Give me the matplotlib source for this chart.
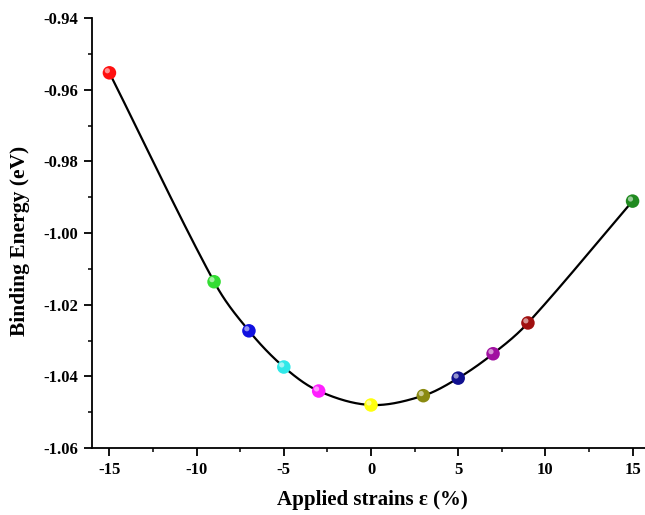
import numpy as np
import matplotlib
matplotlib.use("Agg")
import matplotlib.pyplot as plt
from matplotlib.transforms import offset_copy

strain = [-15, -9, -7, -5, -3, 0, 3, 5, 7, 9, 15]
energy = [-0.9553, -1.0136, -1.0273, -1.0374, -1.0441, -1.0480, -1.0454, -1.0405, -1.0337, -1.0251, -0.9911]
colors = ['#ff1010', '#33dd33', '#1010e0', '#30e8e8', '#ff20ff', '#ffff10',
          '#8a8a10', '#101090', '#a010a0', '#a01010', '#208a20']
xticks = [-15, -10, -5, 0, 5, 10, 15]
yticks = [-1.06, -1.04, -1.02, -1.00, -0.98, -0.96, -0.94]


def hermite_smooth(x, y, xs):
    """Cubic Hermite curve with finite-difference (Catmull-Rom style) tangents."""
    x = np.asarray(x, float)
    y = np.asarray(y, float)
    n = len(x)
    m = np.empty(n)
    m[0] = (y[1] - y[0]) / (x[1] - x[0])
    m[-1] = (y[-1] - y[-2]) / (x[-1] - x[-2])
    m[1:-1] = (y[2:] - y[:-2]) / (x[2:] - x[:-2])
    idx = np.clip(np.searchsorted(x, xs) - 1, 0, n - 2)
    h = x[idx + 1] - x[idx]
    t = (xs - x[idx]) / h
    h00 = 2 * t**3 - 3 * t**2 + 1
    h10 = t**3 - 2 * t**2 + t
    h01 = -2 * t**3 + 3 * t**2
    h11 = t**3 - t**2
    return h00 * y[idx] + h10 * h * m[idx] + h01 * y[idx + 1] + h11 * h * m[idx + 1]


plt.rcParams['font.family'] = ['Liberation Serif', 'DejaVu Serif']
plt.rcParams['font.weight'] = 'bold'

fig = plt.figure(figsize=(6.45, 5.15), dpi=100)
ax = fig.add_axes([92/645, 67/515, 558/645, 430/515])

xs = np.linspace(min(strain), max(strain), 600)
ax.plot(xs, hermite_smooth(strain, energy, xs), color='black', lw=1.6, zorder=2)

ax.scatter(strain, energy, s=95, c=colors, edgecolors='none', zorder=3)
hl = offset_copy(ax.transData, fig=fig, x=-1.5, y=1.5, units='points')
ax.scatter(strain, energy, s=14, c='white', alpha=0.55, edgecolors='none',
           transform=hl, zorder=4)

ax.set_xlim(-16, 16)
ax.set_ylim(-1.06, -0.94)
ax.set_xticks(xticks)
ax.set_xticklabels([str(v) for v in xticks])
ax.set_yticks(yticks)
ax.set_yticklabels([f"{v:.2f}" for v in yticks])
ax.set_xticks(np.arange(-12.5, 16, 5), minor=True)
ax.set_yticks(np.arange(-1.05, -0.94, 0.02), minor=True)
ax.spines['top'].set_visible(False)
ax.spines['right'].set_visible(False)
for s in ['left', 'bottom']:
    ax.spines[s].set_linewidth(1.3)
ax.tick_params(which='major', direction='out', length=6, width=1.3, labelsize=12, pad=4)
ax.tick_params(which='minor', direction='out', length=3, width=1.1)
for lab in ax.get_xticklabels() + ax.get_yticklabels():
    lab.set_fontweight('bold')

fig.text(372/645, 1 - 500/515, 'Applied strains ε (%)', ha='center', va='center',
         fontsize=15, fontweight='bold')
fig.text(20/645, 1 - 241/515, 'Binding Energy (eV)', ha='center', va='center',
         rotation=90, fontsize=15.5, fontweight='bold')

fig.savefig('out.png', dpi=100)
